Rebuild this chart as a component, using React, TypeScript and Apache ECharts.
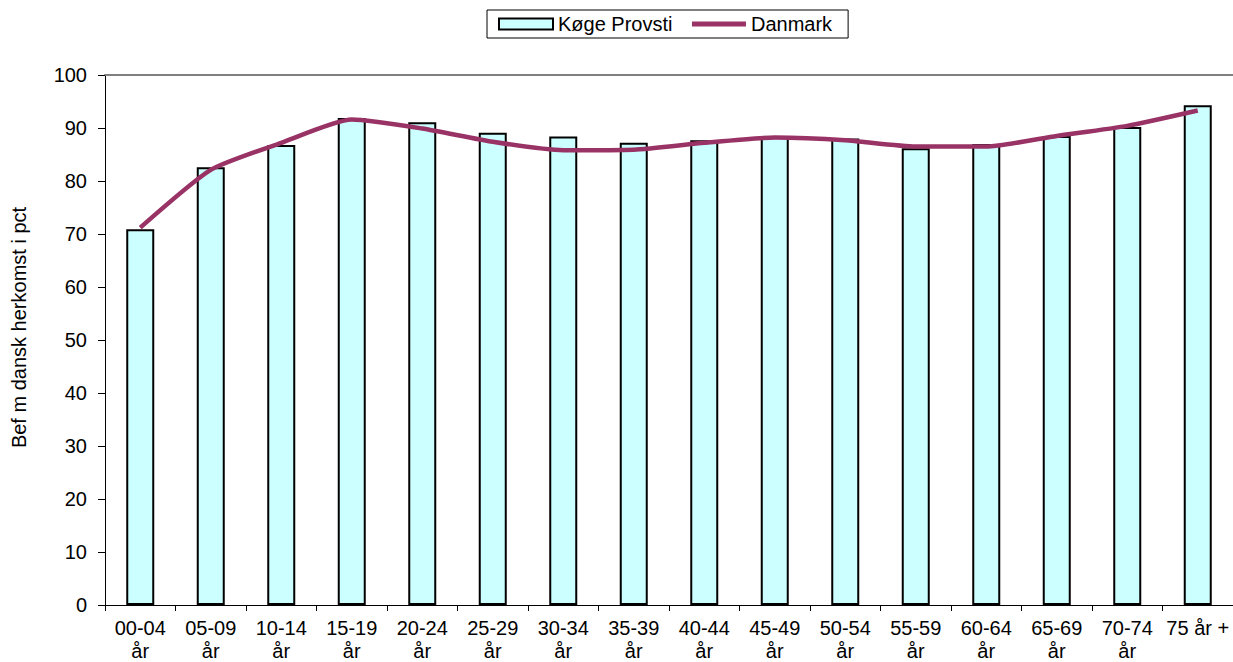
import React, { useEffect, useRef } from "react";
import * as echarts from "echarts";

const categories = [
  "00-04\når", "05-09\når", "10-14\når", "15-19\når", "20-24\når", "25-29\når",
  "30-34\når", "35-39\når", "40-44\når", "45-49\når", "50-54\når", "55-59\når",
  "60-64\når", "65-69\når", "70-74\når", "75 år +",
];
const koegeProvsti = [70.9, 82.6, 86.8, 91.9, 91.1, 89.1, 88.4, 87.2, 87.7, 88.4, 88.0, 86.2, 87.0, 88.5, 90.2, 94.3];
const danmark = [71.2, 82.1, 87.2, 91.6, 89.9, 87.4, 85.8, 85.9, 87.2, 88.2, 87.7, 86.5, 86.5, 88.5, 90.4, 93.3];
const yAxisName = "Bef m dansk herkomst i pct";

const FONT = "'Liberation Sans', Arial, sans-serif";

export default function App() {
  const ref = useRef<HTMLDivElement>(null);
  useEffect(() => {
    if (!ref.current) return;
    const chart = echarts.init(ref.current, undefined, { renderer: "svg" });
    chart.setOption({
      animation: false,
      backgroundColor: "#ffffff",
      textStyle: { fontFamily: FONT, color: "#000" },
      legend: {
        left: 487,
        top: 10,
        padding: [4, 16, 4, 11],
        itemGap: 17,
        itemWidth: 54,
        itemHeight: 11,
        borderColor: "#000",
        borderWidth: 1,
        textStyle: { fontSize: 20, fontFamily: FONT, color: "#000" },
        data: [
          { name: "Køge Provsti", icon: "rect" },
          {
            name: "Danmark",
            itemStyle: { color: "rgba(0,0,0,0)", borderWidth: 0, opacity: 0 },
            lineStyle: { color: "#993366", width: 5 },
          },
        ],
      },
      grid: { left: 105, right: 0, top: 75, bottom: 57, containLabel: false },
      xAxis: [
        {
          type: "category",
          data: categories,
          boundaryGap: true,
          axisLine: { lineStyle: { color: "#000", width: 1 } },
          axisTick: { show: true, length: 6, lineStyle: { color: "#000" } },
          axisLabel: {
            interval: 0,
            fontSize: 20,
            lineHeight: 23,
            margin: 11,
            color: "#000",
            fontFamily: FONT,
          },
          splitLine: { show: false },
        },
        {
          type: "category",
          data: categories,
          position: "top",
          axisLine: { show: true, lineStyle: { color: "#808080", width: 2 } },
          axisTick: { show: false },
          axisLabel: { show: false },
          splitLine: { show: false },
        },
      ],
      yAxis: {
        type: "value",
        min: 0,
        max: 100,
        interval: 10,
        name: yAxisName,
        nameLocation: "middle",
        nameGap: 76,
        nameTextStyle: { fontSize: 20, color: "#000", fontFamily: FONT, padding: [0, 0, 0, 25] },
        axisLine: { show: true, lineStyle: { color: "#000", width: 1 } },
        axisTick: { show: true, length: 7, lineStyle: { color: "#000" } },
        axisLabel: { fontSize: 20, margin: 18, color: "#000", fontFamily: FONT },
        splitLine: { show: false },
      },
      series: [
        {
          name: "Køge Provsti",
          type: "bar",
          data: koegeProvsti,
          barWidth: 28,
          itemStyle: { color: "#CCFFFF", borderColor: "#000", borderWidth: 2 },
        },
        {
          name: "Danmark",
          type: "line",
          data: danmark,
          smooth: 0.2,
          symbol: "none",
          lineStyle: { color: "#993366", width: 4.5 },
          itemStyle: { color: "#993366" },
          z: 5,
        },
      ],
    });
    return () => chart.dispose();
  }, []);
  return (
    <div
      ref={ref}
      style={{ position: "fixed", left: 0, top: 0, width: 1233, height: 662 }}
    />
  );
}
